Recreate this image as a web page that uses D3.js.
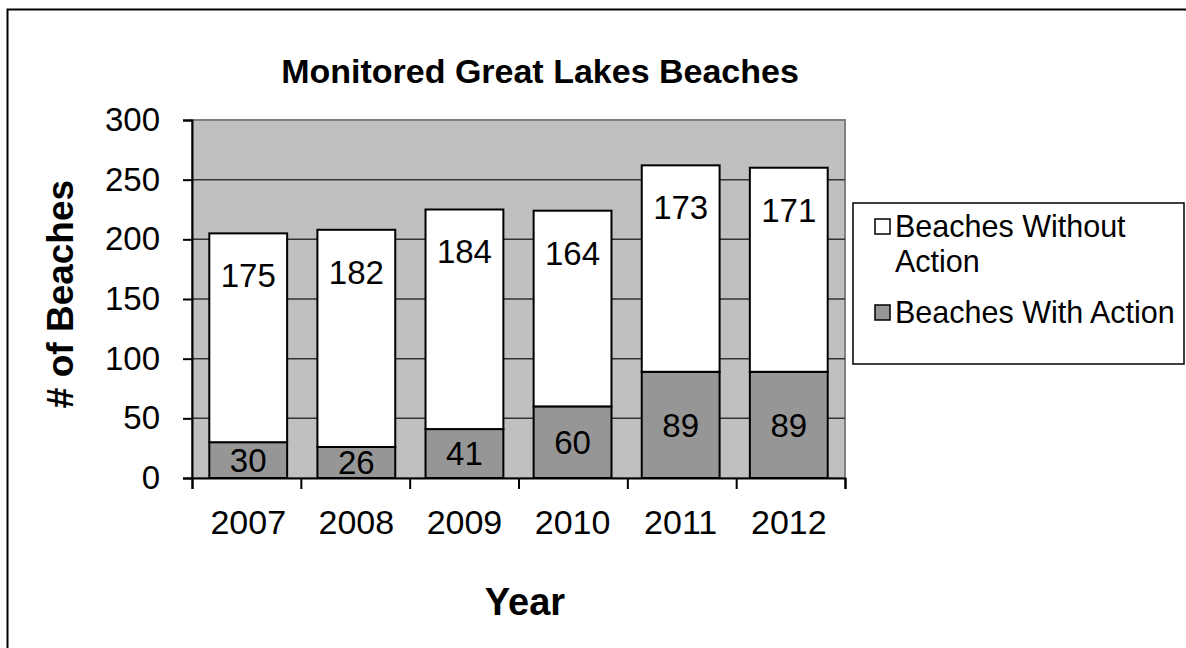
<!DOCTYPE html>
<html>
<head>
<meta charset="utf-8">
<script src="https://cdn.jsdelivr.net/npm/d3@7"></script>
<style>
  html, body { margin: 0; padding: 0; background: #fff; }
  svg { display: block; font-family: Arial, "Liberation Sans", sans-serif; }
</style>
</head>
<body>
<div id="canvas"></div>
<script>
// chart data
const years = ["2007", "2008", "2009", "2010", "2011", "2012"];
const withAction = [30, 26, 41, 60, 89, 89];
const withoutAction = [175, 182, 184, 164, 173, 171];
const yTicks = [0, 50, 100, 150, 200, 250, 300];
const seriesNames = ["Beaches Without Action", "Beaches With Action"];

const width = 1186;
const height = 648;
const plot = { left: 192, right: 845, top: 120, bottom: 478 };

const svg = d3.select("#canvas")
    .append("svg")
    .attr("width", width)
    .attr("height", height);

// outer chart border (only top / left edges are visible in the frame)
svg.append("rect")
    .attr("x", 7.5).attr("y", 9.5)
    .attr("width", width + 20).attr("height", height + 20)
    .attr("fill", "none")
    .attr("stroke", "#000")
    .attr("stroke-width", 2);

const x = d3.scaleBand()
    .domain(years)
    .range([plot.left, plot.right])
    .paddingInner(0.28)
    .paddingOuter(0.16);

const y = d3.scaleLinear()
    .domain([0, 300])
    .range([plot.bottom, plot.top]);

// plot background
svg.append("rect")
    .attr("x", plot.left).attr("y", plot.top)
    .attr("width", plot.right - plot.left)
    .attr("height", plot.bottom - plot.top)
    .attr("fill", "#c0c0c0")
    .attr("stroke", "#808080")
    .attr("stroke-width", 2);

// gridlines
svg.append("g")
    .selectAll("line")
    .data(yTicks.filter(d => d > 0 && d < 300))
    .join("line")
    .attr("x1", plot.left).attr("x2", plot.right)
    .attr("y1", d => y(d)).attr("y2", d => y(d))
    .attr("stroke", "#333")
    .attr("stroke-width", 1.5);

// stacked bars
const stack = years.map((yr, i) => ({ year: yr, low: withAction[i], high: withoutAction[i] }));

const bars = svg.append("g");
bars.selectAll("rect.with")
    .data(stack)
    .join("rect")
    .attr("class", "with")
    .attr("x", d => x(d.year))
    .attr("width", x.bandwidth())
    .attr("y", d => y(d.low))
    .attr("height", d => y(0) - y(d.low))
    .attr("fill", "#969696")
    .attr("stroke", "#000")
    .attr("stroke-width", 2);

bars.selectAll("rect.without")
    .data(stack)
    .join("rect")
    .attr("class", "without")
    .attr("x", d => x(d.year))
    .attr("width", x.bandwidth())
    .attr("y", d => y(d.low + d.high))
    .attr("height", d => y(d.low) - y(d.low + d.high))
    .attr("fill", "#fff")
    .attr("stroke", "#000")
    .attr("stroke-width", 2);

// value labels
const labelFont = 33;
bars.selectAll("text.low")
    .data(stack)
    .join("text")
    .attr("x", d => x(d.year) + x.bandwidth() / 2)
    .attr("y", d => y(d.low / 2))
    .attr("dy", "0.36em")
    .attr("text-anchor", "middle")
    .attr("font-size", labelFont)
    .text(d => d.low);

bars.selectAll("text.high")
    .data(stack)
    .join("text")
    .attr("x", d => x(d.year) + x.bandwidth() / 2)
    .attr("y", d => y(d.low + d.high) + 42)
    .attr("dy", "0.36em")
    .attr("text-anchor", "middle")
    .attr("font-size", labelFont)
    .text(d => d.high);

// y axis
const yAxis = svg.append("g")
    .attr("transform", `translate(${plot.left},0)`)
    .call(d3.axisLeft(y).tickValues(yTicks).tickSize(9).tickPadding(23));
yAxis.select(".domain").attr("stroke", "#000").attr("stroke-width", 2);
yAxis.selectAll(".tick line").attr("stroke", "#000").attr("stroke-width", 2);
yAxis.selectAll("text").attr("font-size", 33).attr("fill", "#000")
    .attr("font-family", "Arial, 'Liberation Sans', sans-serif");

// x axis: ticks on category boundaries, labels at centers
const xBounds = d3.scalePoint().domain(d3.range(years.length + 1)).range([plot.left, plot.right]);
const xTickAxis = svg.append("g")
    .attr("transform", `translate(0,${plot.bottom})`)
    .call(d3.axisBottom(xBounds).tickSize(11).tickFormat(""));
xTickAxis.select(".domain").attr("stroke", "#000").attr("stroke-width", 2);
xTickAxis.selectAll(".tick line").attr("stroke", "#000").attr("stroke-width", 2);

const xAxis = svg.append("g")
    .attr("transform", `translate(0,${plot.bottom})`)
    .call(d3.axisBottom(x).tickSize(0).tickPadding(32));
xAxis.select(".domain").remove();
xAxis.selectAll("text").attr("font-size", 34).attr("fill", "#000")
    .attr("font-family", "Arial, 'Liberation Sans', sans-serif");

// titles
svg.append("text")
    .attr("x", 540).attr("y", 83)
    .attr("text-anchor", "middle")
    .attr("font-size", 34)
    .attr("font-weight", "bold")
    .text("Monitored Great Lakes Beaches");

svg.append("text")
    .attr("x", 525).attr("y", 615)
    .attr("text-anchor", "middle")
    .attr("font-size", 38)
    .attr("font-weight", "bold")
    .text("Year");

svg.append("text")
    .attr("transform", "translate(73,294) rotate(-90)")
    .attr("text-anchor", "middle")
    .attr("font-size", 37)
    .attr("font-weight", "bold")
    .text("# of Beaches");

// legend
const legend = svg.append("g");
legend.append("rect")
    .attr("x", 853).attr("y", 203)
    .attr("width", 331).attr("height", 161)
    .attr("fill", "#fff")
    .attr("stroke", "#000")
    .attr("stroke-width", 1.5);

const legendRows = [
    { lines: ["Beaches Without", "Action"], fill: "#fff", top: 219 },
    { lines: ["Beaches With Action"], fill: "#969696", top: 305 }
];
legendRows.forEach((r, i) => {
    legend.append("rect")
        .attr("x", 875).attr("y", r.top)
        .attr("width", 15).attr("height", 15)
        .attr("fill", r.fill)
        .attr("stroke", "#000")
        .attr("stroke-width", 1.5);
    const t = legend.append("text")
        .attr("x", 895).attr("y", r.top + 18)
        .attr("font-size", 30.5)
        .attr("aria-label", seriesNames[i]);
    r.lines.forEach((ln, j) => {
        t.append("tspan").attr("x", 895).attr("dy", j === 0 ? 0 : 35).text(ln);
    });
});
</script>
</body>
</html>
